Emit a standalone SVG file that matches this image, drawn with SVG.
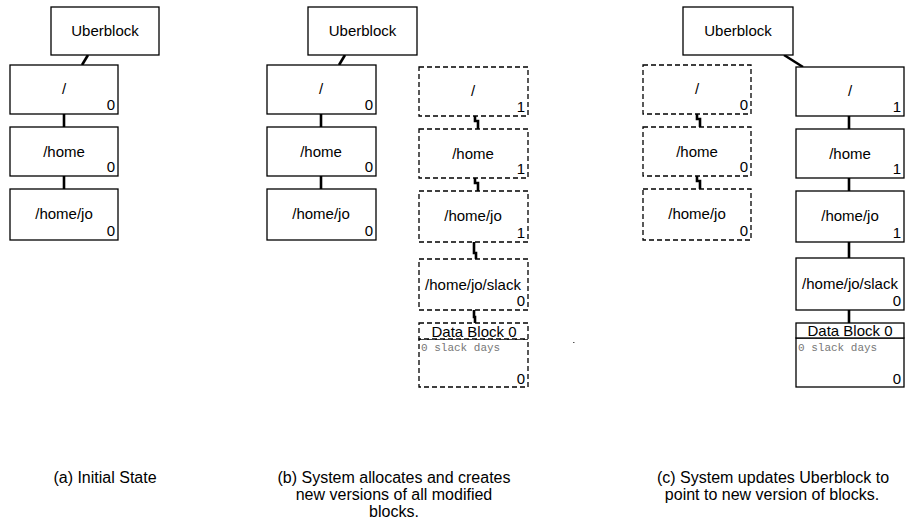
<svg xmlns="http://www.w3.org/2000/svg" width="906" height="527" viewBox="0 0 906 527">
<style>
.b{fill:#fff;stroke:#000;stroke-width:1.3}
.d{fill:#fff;stroke:#000;stroke-width:1.3;stroke-dasharray:5 3}
.t{font-family:"Liberation Sans",Arial,sans-serif;font-size:15px;text-anchor:middle;fill:#000}
.n{font-family:"Liberation Sans",Arial,sans-serif;font-size:15px;text-anchor:end;fill:#000}
.m{font-family:"Liberation Mono","Courier New",monospace;font-size:11px;fill:#777}
.c{font-family:"Liberation Sans",Arial,sans-serif;font-size:16px;text-anchor:middle;fill:#000}
.k{fill:none;stroke:#000;stroke-width:2.6}
</style>
<g id="connectors">
<path class="k" d="M88,55 L82,65"/>
<path class="k" d="M64,114 V127"/>
<path class="k" d="M64,176 V189"/>
<path class="k" d="M345,55 L339,65"/>
<path class="k" d="M321,114 V127"/>
<path class="k" d="M321,176 V189"/>
<path class="k" d="M475,116 V121 H478 V129"/>
<path class="k" d="M475,178 V183 H478 V191"/>
<path class="k" d="M474,242 V253 H476 V259"/>
<path class="k" d="M474,310 V317 H475 V323"/>
<path class="k" d="M784,55 L803,67"/>
<path class="k" d="M849,116 V129"/>
<path class="k" d="M849,178 V191"/>
<path class="k" d="M849,242 V258"/>
<path class="k" d="M849,310 V323"/>
<path class="k" d="M697,114 V119 H700 V127" stroke-width="2.2"/>
<path class="k" d="M697,176 V181 H700 V189" stroke-width="2.2"/>
</g>
<g id="a-uber"><rect class="b" x="51" y="7" width="108" height="48"/><text class="t" x="105" y="36">Uberblock</text></g>
<g id="a-root"><rect class="b" x="10" y="65" width="108" height="49"/><text class="t" x="64" y="94">/</text><text class="n" x="115" y="110">0</text></g>
<g id="a-home"><rect class="b" x="10" y="127" width="108" height="49"/><text class="t" x="64" y="157">/home</text><text class="n" x="115" y="172">0</text></g>
<g id="a-jo"><rect class="b" x="10" y="189" width="108" height="51"/><text class="t" x="64" y="219">/home/jo</text><text class="n" x="115" y="236">0</text></g>

<g id="b-uber"><rect class="b" x="308" y="7" width="109" height="48"/><text class="t" x="362.5" y="36">Uberblock</text></g>
<g id="b-root"><rect class="b" x="267" y="65" width="109" height="49"/><text class="t" x="321" y="94">/</text><text class="n" x="373" y="110">0</text></g>
<g id="b-home"><rect class="b" x="267" y="127" width="109" height="49"/><text class="t" x="321" y="157">/home</text><text class="n" x="373" y="172">0</text></g>
<g id="b-jo"><rect class="b" x="267" y="189" width="109" height="51"/><text class="t" x="321" y="219">/home/jo</text><text class="n" x="373" y="236">0</text></g>
<g id="b-root1"><rect class="d" x="419" y="67" width="109" height="49"/><text class="t" x="473" y="96">/</text><text class="n" x="525" y="112">1</text></g>
<g id="b-home1"><rect class="d" x="419" y="129" width="109" height="49"/><text class="t" x="473" y="159">/home</text><text class="n" x="525" y="174">1</text></g>
<g id="b-jo1"><rect class="d" x="419" y="191" width="109" height="51"/><text class="t" x="473" y="221">/home/jo</text><text class="n" x="525" y="238">1</text></g>
<g id="b-slack"><rect class="d" x="419" y="259" width="109" height="51"/><text class="t" x="473" y="290">/home/jo/slack</text><text class="n" x="525" y="306">0</text></g>
<g id="b-data"><rect class="d" x="419" y="339" width="109" height="48"/><rect class="d" x="419" y="323" width="109" height="16"/><text class="t" x="474" y="337">Data Block 0</text><text class="m" x="421" y="351">0 slack days</text><text class="n" x="525" y="384">0</text></g>
<rect x="573" y="342" width="1.5" height="1" fill="#555"/>

<g id="c-uber"><rect class="b" x="683" y="7" width="110" height="48"/><text class="t" x="738" y="36">Uberblock</text></g>
<g id="c-root0"><rect class="d" x="643" y="65" width="108" height="49"/><text class="t" x="697" y="94">/</text><text class="n" x="748" y="110">0</text></g>
<g id="c-home0"><rect class="d" x="643" y="127" width="108" height="49"/><text class="t" x="697" y="157">/home</text><text class="n" x="748" y="172">0</text></g>
<g id="c-jo0"><rect class="d" x="643" y="189" width="108" height="51"/><text class="t" x="697" y="219">/home/jo</text><text class="n" x="748" y="236">0</text></g>
<g id="c-root1"><rect class="b" x="796" y="67" width="108" height="49"/><text class="t" x="850" y="96">/</text><text class="n" x="901" y="112">1</text></g>
<g id="c-home1"><rect class="b" x="796" y="129" width="108" height="49"/><text class="t" x="850" y="159">/home</text><text class="n" x="901" y="174">1</text></g>
<g id="c-jo1"><rect class="b" x="796" y="191" width="108" height="51"/><text class="t" x="850" y="221">/home/jo</text><text class="n" x="901" y="238">1</text></g>
<g id="c-slack"><rect class="b" x="796" y="258" width="108" height="52"/><text class="t" x="850" y="289">/home/jo/slack</text><text class="n" x="901" y="306">0</text></g>
<g id="c-data"><rect class="b" x="796" y="338" width="108" height="49"/><rect class="b" x="796" y="323" width="108" height="15"/><text class="t" x="850" y="336">Data Block 0</text><text class="m" x="798" y="351">0 slack days</text><text class="n" x="901" y="384">0</text></g>

<g id="captions">
<text class="c" x="105" y="483">(a) Initial State</text>
<text class="c" x="394" y="483">(b) System allocates and creates</text>
<text class="c" x="394" y="500">new versions of all modified</text>
<text class="c" x="394" y="517">blocks.</text>
<text class="c" x="773" y="483">(c) System updates Uberblock to</text>
<text class="c" x="772" y="500">point to new version of blocks.</text>
</g>
</svg>
